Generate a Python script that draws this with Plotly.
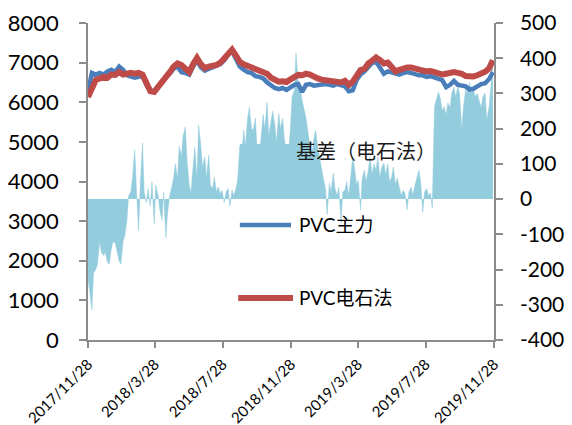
import pandas as pd
import plotly.graph_objects as go

# Weekly closing prices (yuan/ton), Tuesdays from 2017-11-28
price_start = "2017-11-28"
pvc_main = [
    6260, 6740, 6700, 6740, 6700, 6780, 6820, 6760, 6900, 6820,
    6680, 6640, 6620, 6640, 6660, 6440, 6300, 6280, 6400, 6560,
    6640, 6720, 6850, 6900, 6760, 6740, 6700, 6900, 7050, 6880,
    6800, 6840, 6880, 6900, 6960, 7060, 7200, 7290, 7100, 6900,
    6820, 6760, 6740, 6660, 6640, 6600, 6500, 6420, 6360, 6330,
    6360, 6310, 6380, 6440, 6460, 6260, 6440, 6460, 6420, 6440,
    6440, 6460, 6440, 6420, 6460, 6440, 6400, 6280, 6300, 6560,
    6700, 6780, 6900, 7000, 7020, 6880, 6720, 6780, 6760, 6720,
    6700, 6740, 6760, 6740, 6700, 6680, 6680, 6640, 6660, 6620,
    6600, 6560, 6380, 6440, 6540, 6440, 6420, 6400, 6320, 6340,
    6400, 6460, 6480, 6580, 6760,
]
pvc_carbide = [
    6130, 6400, 6560, 6600, 6640, 6620, 6700, 6690, 6760, 6700,
    6720, 6740, 6720, 6740, 6700, 6500, 6280, 6260, 6380, 6500,
    6600, 6760, 6900, 6980, 6940, 6860, 6760, 6960, 7120, 6960,
    6860, 6900, 6920, 6940, 7000, 7120, 7250, 7330, 7180, 7020,
    6960, 6920, 6880, 6840, 6840, 6800, 6720, 6620, 6560, 6520,
    6530, 6510, 6580, 6640, 6690, 6680, 6720, 6700, 6640, 6600,
    6570, 6560, 6550, 6530, 6520, 6500, 6540, 6440, 6520, 6700,
    6810, 6840, 6980, 7050, 7130, 7060, 6980, 7000, 6900, 6780,
    6820, 6860, 6880, 6880, 6840, 6820, 6800, 6780, 6790, 6760,
    6740, 6700, 6720, 6760, 6760, 6740, 6720, 6660, 6640, 6650,
    6680, 6720, 6770, 6850, 7060,
]

# Basis (carbide spot minus futures), sampled Tuesdays and Fridays
basis = [
    -230, -260, -315, -210, -200, -185, -120, -150, -160, -150,
    -180, -185, -140, -120, -125, -150, -175, -185, -120, -105,
    -60, 10, 20, 60, 140, 30, -90, 40, 160, 20,
    -10, 30, -20, 50, -70, 40, 10, -30, -60, 20,
    -110, -40, 10, 30, 60, 100, 60, 150, 120, 180,
    205, 110, 40, 17, 80, 148, 60, 210, 150, 90,
    120, 60, 125, 40, 30, 62, 20, 35, 15, 25,
    -10, 20, 30, -20, 25, 10, 30, 54, 150, 120,
    196, 150, 230, 260, 200, 196, 230, 140, 120, 180,
    240, 200, 275, 180, 220, 250, 210, 160, 244, 200,
    230, 168, 140, 120, 200, 290, 310, 415, 330, 318,
    280, 260, 230, 196, 150, 120, 170, 196, 150, 120,
    90, 60, 30, -45, 45, 20, 74, 30, 10, 34,
    -68, 20, 25, 50, 10, 60, 120, 90, 40, 54,
    -31, 60, 82, 50, 82, 120, 70, 100, 82, 120,
    60, 90, 102, 70, 100, 50, 62, 91, 40, 60,
    34, 10, 25, 15, -30, 20, 34, 10, 40, 60,
    82, 50, -37, 20, 30, 10, 17, -25, 262, 280,
    304, 290, 250, 262, 240, 273, 260, 300, 318, 290,
    318, 300, 196, 260, 310, 300, 332, 300, 318, 290,
    300, 281, 260, 290, 301, 224, 260, 310, 395,
]

tick_dates = ["2017-11-28", "2018-03-28", "2018-07-28", "2018-11-28",
              "2019-03-28", "2019-07-28", "2019-11-28"]
tick_labels = ["2017/11/28", "2018/3/28", "2018/7/28", "2018/11/28",
               "2019/3/28", "2019/7/28", "2019/11/28"]
price_ticks = [0, 1000, 2000, 3000, 4000, 5000, 6000, 7000, 8000]
basis_ticks = [-400, -300, -200, -100, 0, 100, 200, 300, 400, 500]
basis_tick_labels = ["-400", "-300", "-200", "-100", "0",
                     "100", "200", "300", "400", "500"]

name_basis = "基差（电石法）"
name_main = "PVC主力"
name_carbide = "PVC电石法"

price_dates = pd.date_range(price_start, periods=len(pvc_main), freq="7D")
basis_dates = pd.date_range(price_start, "2019-11-26", freq="W-TUE").union(
    pd.date_range(price_start, "2019-11-26", freq="W-FRI"))

c_blue = "#4A7EBB"
c_red = "#BE4B48"
c_area = "#93CDDD"
c_axis = "#8C8C8C"
latin = "Lato, 'Noto Sans CJK SC', sans-serif"

fig = go.Figure()
fig.add_trace(go.Scatter(
    x=basis_dates, y=basis, name=name_basis, yaxis="y",
    mode="lines", fill="tozeroy", fillcolor=c_area,
    line=dict(color=c_area, width=0.5), showlegend=False,
))
fig.add_trace(go.Scatter(
    x=price_dates, y=pvc_main, name=name_main, yaxis="y2",
    mode="lines", line=dict(color=c_blue, width=4.5), showlegend=False,
))
fig.add_trace(go.Scatter(
    x=price_dates, y=pvc_carbide, name=name_carbide, yaxis="y2",
    mode="lines", line=dict(color=c_red, width=6), showlegend=False,
))

axis_common = dict(
    showgrid=False, zeroline=False, showline=True, automargin=False,
    linecolor=c_axis, linewidth=1.5,
    ticks="outside", tickcolor=c_axis, tickwidth=1.5,
)

fig.update_layout(
    width=572, height=425,
    margin=dict(l=88, r=78, t=23, b=85),
    paper_bgcolor="white", plot_bgcolor="white",
    font=dict(family=latin, color="#000000"),
    xaxis=dict(
        **axis_common, type="date",
        range=["2017-11-28", "2019-11-28"],
        tickvals=tick_dates, ticktext=tick_labels,
        tickangle=-45, ticklen=6, ticklabelstandoff=2,
        tickfont=dict(size=15, family=latin),
    ),
    yaxis=dict(
        **axis_common, side="right", range=[-400, 500],
        tickvals=basis_ticks, ticktext=basis_tick_labels,
        ticklen=7, ticklabelstandoff=13,
        tickfont=dict(size=21, family=latin),
    ),
    yaxis2=dict(
        **axis_common, side="left", overlaying="y",
        range=[0, 8000], tickvals=price_ticks,
        ticklen=7, ticklabelstandoff=16,
        tickfont=dict(size=22, family=latin),
    ),
)

# In-plot key
fig.add_shape(type="rect", xref="paper", yref="paper",
              x0=0.374, x1=0.4975, y0=0.577, y1=0.618,
              fillcolor=c_area, line=dict(width=0))
fig.add_shape(type="line", xref="paper", yref="paper",
              x0=0.374, x1=0.500, y0=0.363, y1=0.363,
              line=dict(color=c_blue, width=4.5))
fig.add_shape(type="line", xref="paper", yref="paper",
              x0=0.370, x1=0.505, y0=0.1325, y1=0.1325,
              line=dict(color=c_red, width=6))
fig.add_annotation(xref="paper", yref="paper", x=0.508, y=0.599,
                   text=name_basis, showarrow=False, xanchor="left",
                   yanchor="middle",
                   font=dict(size=20, family="'Noto Sans CJK SC'", color="#1a1a1a"))
fig.add_annotation(xref="paper", yref="paper", x=0.515, y=0.363,
                   text=name_main, showarrow=False, xanchor="left",
                   yanchor="middle", font=dict(size=19, family=latin))
fig.add_annotation(xref="paper", yref="paper", x=0.515, y=0.1325,
                   text=name_carbide, showarrow=False, xanchor="left",
                   yanchor="middle", font=dict(size=19, family=latin))

fig.write_html("out.html")
